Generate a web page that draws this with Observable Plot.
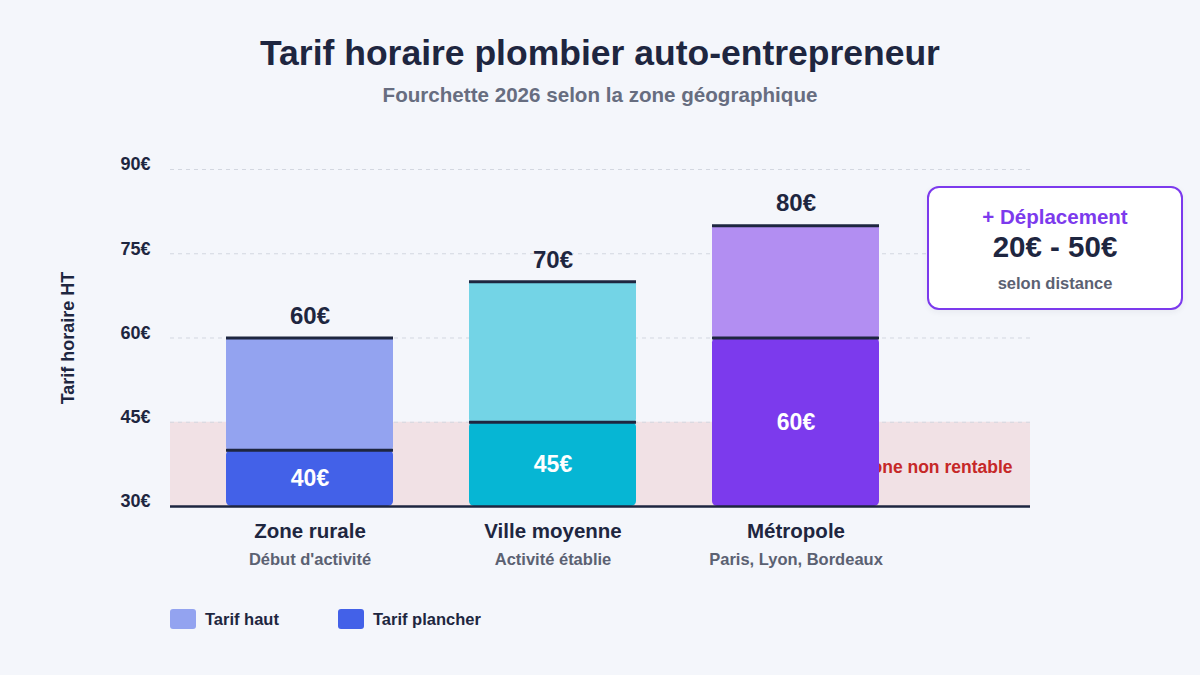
<!DOCTYPE html>
<html lang="fr">
<head>
<meta charset="utf-8">
<title>Tarif horaire plombier auto-entrepreneur</title>
<script src="https://cdn.jsdelivr.net/npm/d3@7"></script>
<script src="https://cdn.jsdelivr.net/npm/@observablehq/plot@0.6"></script>
<style>
  html, body { margin: 0; padding: 0; background: #f4f6fb; }
  #page { position: relative; width: 1200px; height: 675px; overflow: hidden;
          font-family: "Liberation Sans", Arial, sans-serif; color: #1e2640; }
  .title { position: absolute; left: 0; width: 1200px; text-align: center; top: 34px;
           font-size: 35.5px; font-weight: bold; line-height: 38px; }
  .subtitle { position: absolute; left: 0; width: 1200px; text-align: center; top: 84px;
              font-size: 20.6px; font-weight: bold; line-height: 22px; color: #676d80; }
  #chart { position: absolute; left: 0; top: 120px; }
  .note { position: absolute; left: 927px; top: 186px; width: 252px; height: 120px;
          background: #ffffff; border: 2.5px solid #7c3aed; border-radius: 12px;
          box-shadow: 0 2px 6px rgba(30,38,64,0.06); }
  .note div { position: absolute; left: 0; width: 100%; text-align: center; font-weight: bold; }
  .note .a { top: 17px; font-size: 20.5px; line-height: 24px; color: #7c3aed; }
  .note .b { top: 43px; font-size: 29.5px; line-height: 32px; color: #1e2640; }
  .note .c { top: 85px; font-size: 16.5px; line-height: 20px; color: #5b6172; }
  .legend { position: absolute; top: 608px; left: 0; height: 22px; }
  .legend span { position: absolute; top: 0; white-space: nowrap; font-size: 16.5px;
                 font-weight: bold; line-height: 22px; }
  .legend i { position: absolute; top: 1px; width: 26px; height: 20px; border-radius: 3px; }
</style>
</head>
<body>
<div id="page">
  <div class="title">Tarif horaire plombier auto-entrepreneur</div>
  <div class="subtitle">Fourchette 2026 selon la zone géographique</div>
  <div id="chart"></div>
  <div class="note">
    <div class="a">+ Déplacement</div>
    <div class="b">20€ - 50€</div>
    <div class="c">selon distance</div>
  </div>
  <div class="legend" id="legend"></div>
</div>
<script>
// Hourly rates (€ HT) by area
const zones = ["Zone rurale", "Ville moyenne", "Métropole"];
const zoneNotes = ["Début d'activité", "Activité établie", "Paris, Lyon, Bordeaux"];
const floorRates = [40, 45, 60];   // tarif plancher
const highRates = [60, 70, 80];    // tarif haut
const yTicks = [30, 45, 60, 75, 90];
const unprofitable = [30, 45];     // zone non rentable

// Palette
const floorColors = ["#4361e8", "#06b6d4", "#7c3aed"];
const highColors = ["#93a3f0", "#73d4e6", "#b28ef2"];
const ink = "#1e2640";

const rows = zones.map((zone, i) => ({
  zone,
  note: zoneNotes[i],
  floor: floorRates[i],
  high: highRates[i],
  floorColor: floorColors[i],
  highColor: highColors[i]
}));

const chart = Plot.plot({
  width: 1200,
  height: 470,
  marginLeft: 170,
  marginRight: 170,
  marginTop: 49,
  marginBottom: 84,
  style: { fontFamily: "Liberation Sans, Arial, sans-serif", background: "transparent", overflow: "visible" },
  x: { domain: zones, range: [225, 881], paddingInner: 0.311, paddingOuter: 0, axis: null },
  y: { domain: [30, 90], axis: null },
  marks: [
    // unprofitable band
    Plot.rect([unprofitable], { y1: d => d[0], y2: d => d[1], fill: "#dc2626", fillOpacity: 0.1 }),
    Plot.text(["Zone non rentable"], {
      frameAnchor: "right", y: () => 37, dx: -18, textAnchor: "end",
      fill: "#c62828", fontSize: 17.5, fontWeight: "bold"
    }),
    // grid
    Plot.ruleY(yTicks.slice(1), { stroke: "#d3d7e0", strokeDasharray: "4,4", strokeWidth: 1 }),
    Plot.axisY(yTicks, {
      tickSize: 0, tickPadding: 20, tickFormat: d => d + "€", dy: -5,
      fontSize: 18, fontWeight: "bold", fill: ink, label: null
    }),
    Plot.text(["Tarif horaire HT"], {
      frameAnchor: "left", textAnchor: "middle", rotate: -90, dx: -102,
      fontSize: 18, fontWeight: "bold", fill: ink
    }),
    // stacked range bars
    Plot.barY(rows, { x: "zone", y1: 30, y2: "floor", fill: "floorColor", rx: 5 }),
    Plot.barY(rows, { x: "zone", y1: "floor", y2: "high", fill: "highColor", rx: 3 }),
    Plot.tickY(rows, { x: "zone", y: "floor", stroke: ink, strokeWidth: 3 }),
    Plot.tickY(rows, { x: "zone", y: "high", stroke: ink, strokeWidth: 3 }),
    // baseline
    Plot.ruleY([30], { stroke: ink, strokeWidth: 2.5 }),
    // value labels
    Plot.text(rows, {
      x: "zone", y: "high", dy: -22, text: d => d.high + "€",
      fontSize: 24, fontWeight: "bold", fill: ink
    }),
    Plot.text(rows, {
      x: "zone", y: d => (30 + d.floor) / 2, text: d => d.floor + "€",
      fontSize: 23, fontWeight: "bold", fill: "#ffffff"
    }),
    // category labels
    Plot.text(rows, {
      x: "zone", frameAnchor: "bottom", dy: 31, text: "zone",
      fontSize: 20.5, fontWeight: "bold", fill: ink
    }),
    Plot.text(rows, {
      x: "zone", frameAnchor: "bottom", dy: 58, text: "note",
      fontSize: 16.5, fontWeight: "bold", fill: "#5b6172"
    })
  ]
});
document.getElementById("chart").appendChild(chart);

// legend
const legendItems = [
  { label: "Tarif haut", color: highColors[0], x: 170 },
  { label: "Tarif plancher", color: floorColors[0], x: 338 }
];
const legend = d3.select("#legend");
legendItems.forEach(item => {
  legend.append("i").style("left", item.x + "px").style("background", item.color);
  legend.append("span").style("left", (item.x + 35) + "px").text(item.label);
});
</script>
</body>
</html>
